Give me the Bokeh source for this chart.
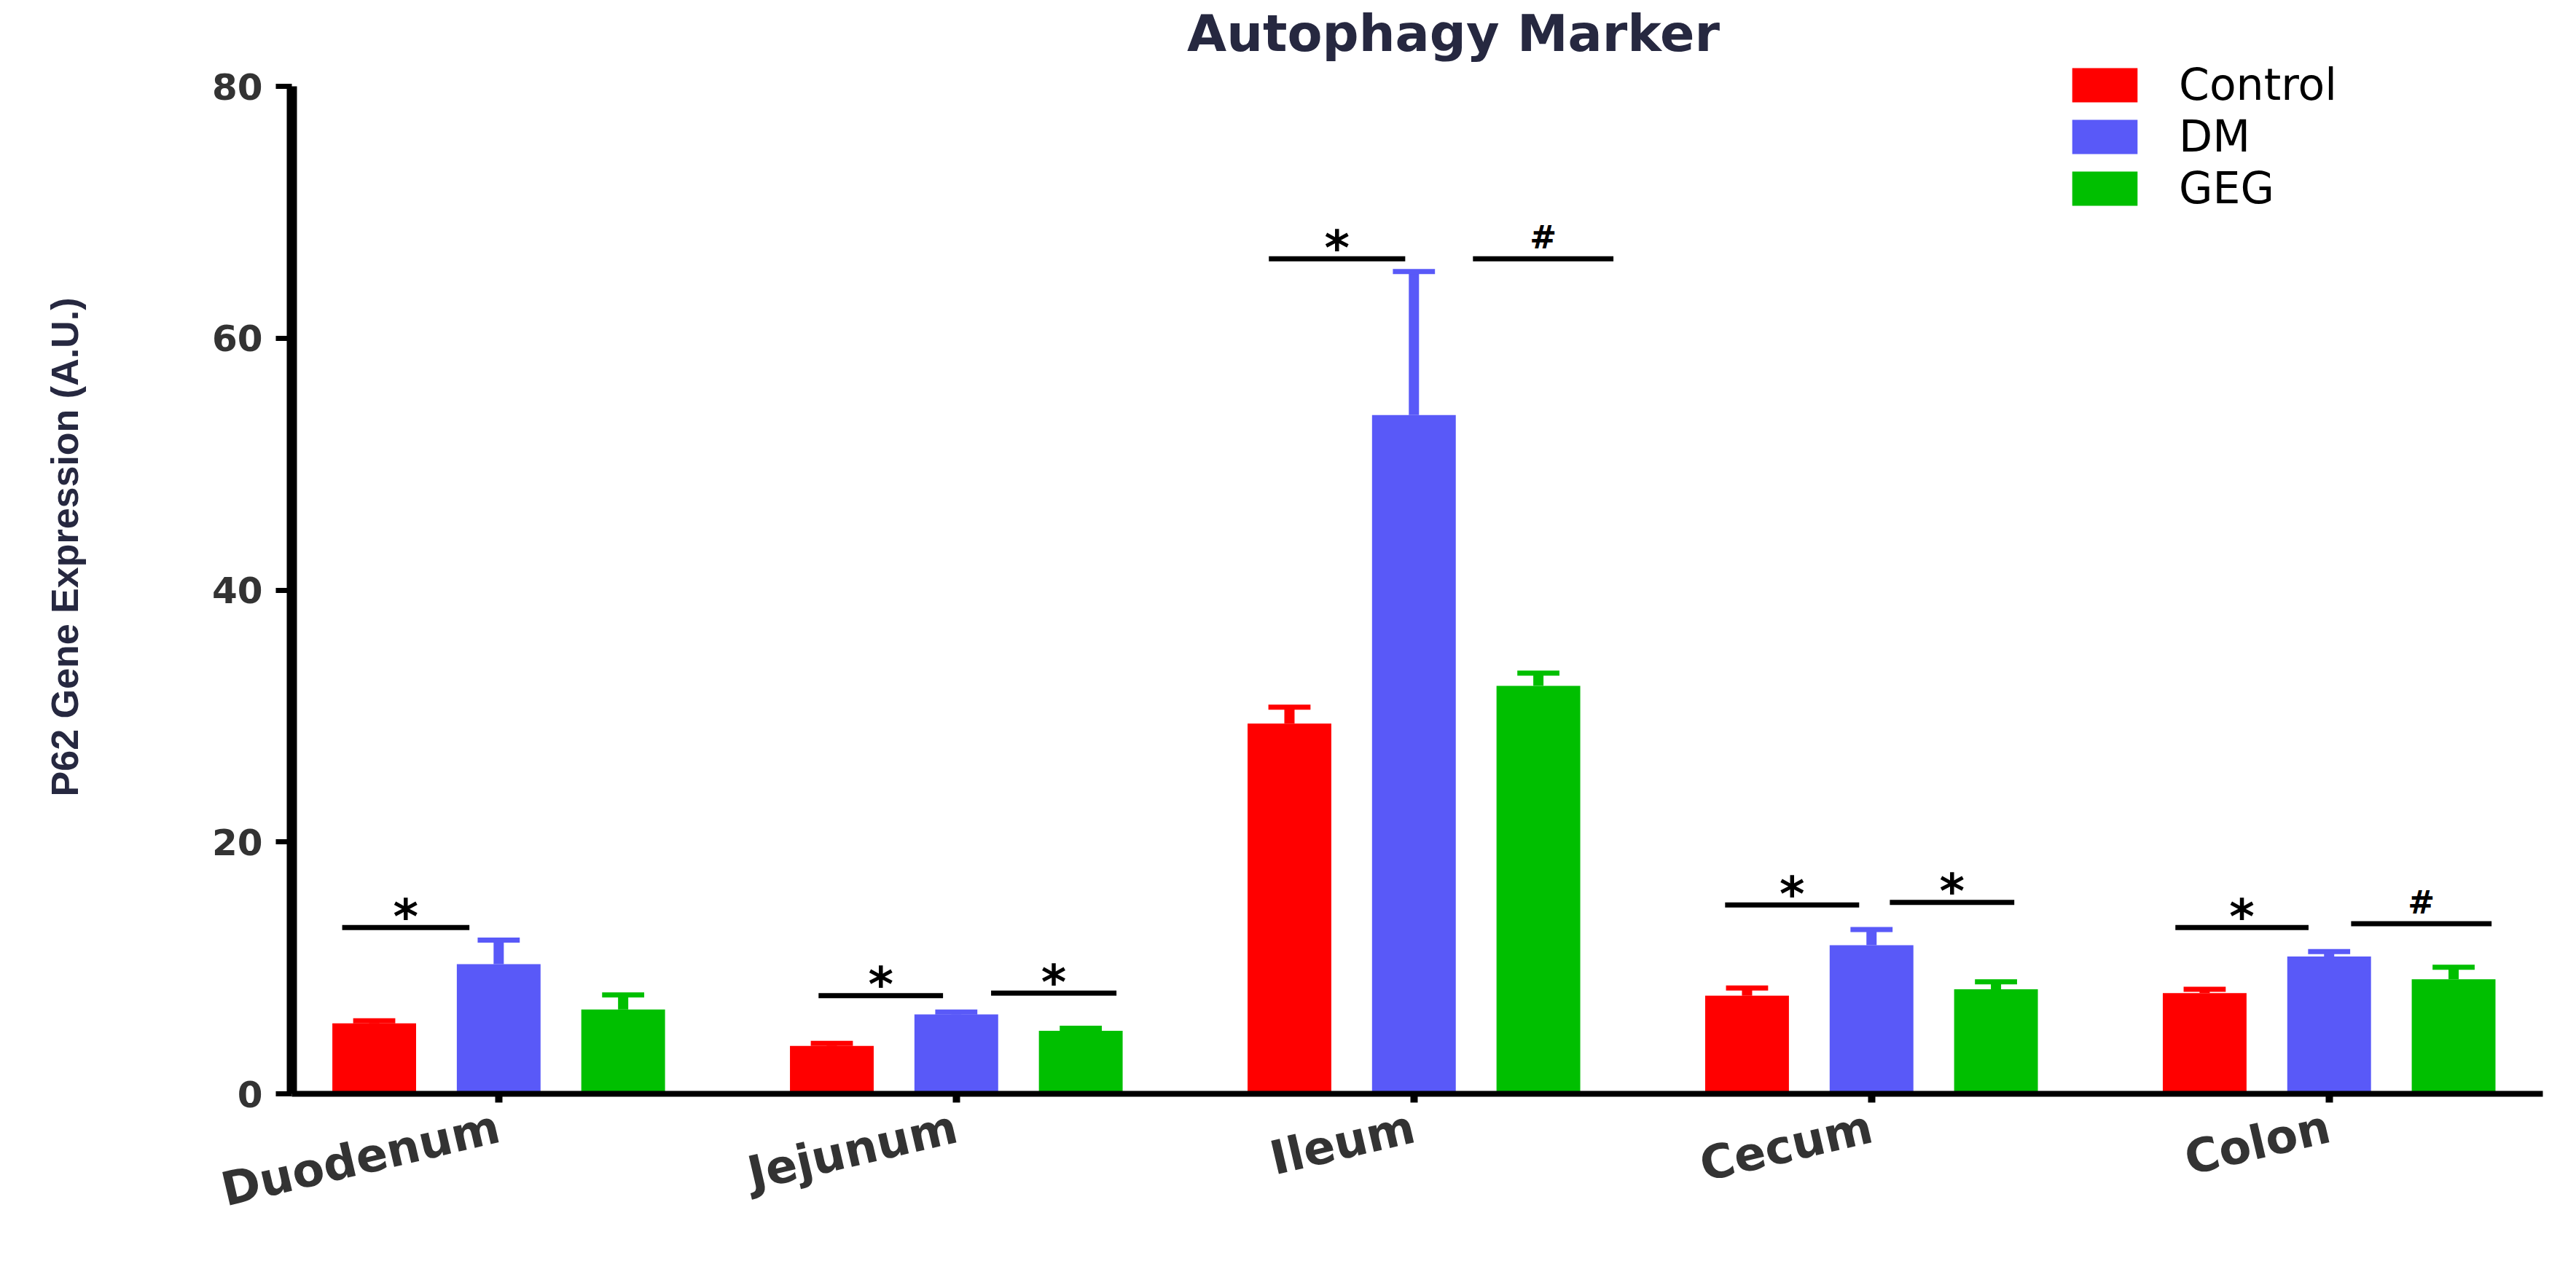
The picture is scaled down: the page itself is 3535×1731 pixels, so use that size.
from bokeh.plotting import figure
from bokeh.models import ColumnDataSource, FixedTicker, Legend, LegendItem, Range1d, Label
from bokeh.core.properties import value
from bokeh.embed import file_html
from bokeh.resources import INLINE

# ---------------- data ----------------
categories = ["Duodenum", "Jejunum", "Ileum", "Cecum", "Colon"]
groups = ["Control", "DM", "GEG"]
control_mean = [5.6, 3.8, 29.4, 7.8, 8.0]
control_err = [0.2, 0.2, 1.3, 0.6, 0.3]
dm_mean = [10.3, 6.3, 53.9, 11.8, 10.9]
dm_err = [1.9, 0.2, 11.4, 1.25, 0.4]
geg_mean = [6.7, 5.0, 32.4, 8.3, 9.1]
geg_err = [1.15, 0.2, 1.0, 0.6, 0.95]
y_ticks = [0, 20, 40, 60, 80]

# significance annotations: bar start / end (category units), height, symbol
sig_x0 = [0.658, 1.699, 2.076, 2.683, 3.129, 3.680, 4.040, 4.664, 5.048]
sig_x1 = [0.936, 1.971, 2.350, 2.981, 3.436, 3.973, 4.312, 4.955, 5.355]
sig_y = [13.2, 7.8, 8.0, 66.3, 66.3, 15.0, 15.2, 13.2, 13.5]
sig_label = ["*", "*", "*", "*", "#", "*", "*", "*", "#"]

# ---------------- style / layout ----------------
colors = ["#FF0000", "#5959F8", "#00BF00"]
offsets = [-0.272, 0.0, 0.272]
bar_w = 0.183
cap_half = 0.046
FONT = "DejaVu Sans"
FRAME_BOTTOM = 1501                 # canvas y of frame bottom (value 0)
Y_TOP = 80 * FRAME_BOTTOM / 1383    # frame extends above 80 to host title/legend

p = figure(width=3515, height=1715,
           x_range=Range1d(0.548, 5.467), y_range=Range1d(0, Y_TOP),
           output_backend="svg", toolbar_location=None,
           min_border_left=400, min_border_right=26,
           min_border_top=0, min_border_bottom=1715 - FRAME_BOTTOM)

means = [control_mean, dm_mean, geg_mean]
errs = [control_err, dm_err, geg_err]
items = []
for g, (name, m, e, c, off) in enumerate(zip(groups, means, errs, colors, offsets)):
    xs = [i + 1 + off for i in range(len(categories))]
    tops = [a + b for a, b in zip(m, e)]
    src = ColumnDataSource(dict(
        x=xs, top=m, up=tops,
        cl=[x - cap_half for x in xs], cr=[x + cap_half for x in xs]))
    r = p.vbar(x="x", top="top", bottom=0, width=bar_w, source=src,
               fill_color=c, line_color=None)
    p.segment(x0="x", y0="top", x1="x", y1="up", source=src,
              line_color=c, line_width=14, line_cap="butt")
    p.segment(x0="cl", y0="up", x1="cr", y1="up", source=src,
              line_color=c, line_width=7, line_cap="butt")
    items.append(LegendItem(label=name, renderers=[r]))

# significance bars
sig_src = ColumnDataSource(dict(x0=sig_x0, x1=sig_x1, y=sig_y))
p.segment(x0="x0", y0="y", x1="x1", y1="y", source=sig_src,
          line_color="black", line_width=7, line_cap="butt")

star_idx = [i for i, s in enumerate(sig_label) if s == "*"]
hash_idx = [i for i, s in enumerate(sig_label) if s == "#"]
star_src = ColumnDataSource(dict(
    x=[(sig_x0[i] + sig_x1[i]) / 2 for i in star_idx],
    y=[sig_y[i] for i in star_idx], t=[sig_label[i] for i in star_idx]))
hash_src = ColumnDataSource(dict(
    x=[(sig_x0[i] + sig_x1[i]) / 2 for i in hash_idx],
    y=[sig_y[i] for i in hash_idx], t=[sig_label[i] for i in hash_idx]))
p.text(x="x", y="y", text="t", source=star_src, text_align="center",
       text_baseline="alphabetic", y_offset=-15,
       text_font=value(FONT), text_font_size="66px", text_font_style="bold",
       text_color="black")
p.text(x="x", y="y", text="t", source=hash_src, text_align="center",
       text_baseline="alphabetic", y_offset=-30,
       text_font=value(FONT), text_font_size="44px", text_font_style="bold",
       text_color="black")

# title
p.add_layout(Label(x=1594, y=FRAME_BOTTOM - 45, x_units="screen", y_units="screen",
                   text="Autophagy Marker", text_align="center",
                   text_baseline="middle", text_font=FONT,
                   text_font_size="70px", text_font_style="bold",
                   text_color="#262840"))

# axes
p.xgrid.visible = False
p.ygrid.visible = False
p.outline_line_color = None

yax = p.yaxis[0]
yax.ticker = FixedTicker(ticks=y_ticks)
yax.bounds = (0, 80)
yax.axis_line_width = 14
yax.axis_line_color = "black"
yax.major_tick_line_width = 7
yax.major_tick_line_color = "black"
yax.major_tick_out = 22
yax.major_tick_in = 0
yax.minor_tick_line_color = None
yax.major_label_text_font = FONT
yax.major_label_text_font_size = "50px"
yax.major_label_text_font_style = "bold"
yax.major_label_text_color = "#333333"
yax.major_label_standoff = 18
yax.axis_label = "P62 Gene Expression (A.U.)"
yax.axis_label_text_font = "Liberation Sans"
yax.axis_label_text_font_size = "52px"
yax.axis_label_text_font_style = "bold"
yax.axis_label_text_color = "#262840"
yax.axis_label_standoff = 170

xax = p.xaxis[0]
xax.ticker = FixedTicker(ticks=[i + 1 for i in range(len(categories))])
xax.major_label_overrides = {i + 1: c for i, c in enumerate(categories)}
xax.axis_line_width = 8
xax.axis_line_color = "black"
xax.major_tick_line_width = 10
xax.major_tick_line_color = "black"
xax.major_tick_out = 12
xax.major_tick_in = 0
xax.minor_tick_line_color = None
xax.major_label_orientation = 0.23
xax.major_label_text_font = FONT
xax.major_label_text_font_size = "64px"
xax.major_label_text_font_style = "bold"
xax.major_label_text_line_height = 1.0
xax.major_label_text_color = "#333333"
xax.major_label_standoff = 32

legend = Legend(items=items, location=(2432, FRAME_BOTTOM - 80.5 - 213),
                orientation="vertical",
                padding=0, margin=0, spacing=0,
                glyph_width=112, glyph_height=59, label_standoff=46,
                label_height=71,
                label_text_font=FONT, label_text_font_size="60px",
                label_text_color="black",
                border_line_color=None, background_fill_alpha=0)
p.add_layout(legend)

open("out.html", "w").write(file_html(p, INLINE))
